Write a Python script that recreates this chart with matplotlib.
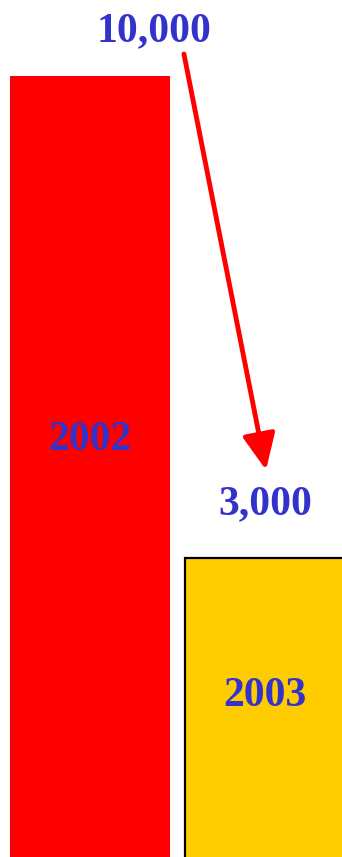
import matplotlib.pyplot as plt

# bar data (heights, labels as printed)
years = ["2002", "2003"]
bar_heights = [100.0, 38.5]
value_labels = ["10,000", "3,000"]
bar_colors = ["#ff0000", "#ffcc00"]
edge_colors = ["none", "black"]

fig = plt.figure(figsize=(3.42, 8.57), dpi=100)
ax = fig.add_axes([0, 0, 1, 1])

xs = list(range(len(years)))
for i in xs:
    ax.bar(i, bar_heights[i], width=0.914, color=bar_colors[i],
           edgecolor=edge_colors[i], linewidth=1.6)

txt = dict(color="#3333cc", fontsize=30, fontweight="bold",
           family="Liberation Serif", ha="center", va="baseline")

# year labels inside bars
ax.text(xs[0], 52.2, years[0], **txt)
ax.text(xs[1], 19.6, years[1], **txt)

# value labels above
ax.text(0.366, 104.4, value_labels[0], **txt)
ax.text(1.0, 44.0, value_labels[1], **txt)

# red arrow from 10,000 down to 3,000
ax.annotate("", xy=(1.006, 49.7), xytext=(0.537, 102.8),
            arrowprops=dict(arrowstyle="-|>,head_length=2.2,head_width=1.0",
                            color="#ff0000", lw=3.5, shrinkA=0, shrinkB=0))

ax.set_xlim(-0.514, 1.44)
ax.set_ylim(0.3, 109.7)
ax.axis("off")

plt.savefig("out.png", dpi=100)
plt.close()
